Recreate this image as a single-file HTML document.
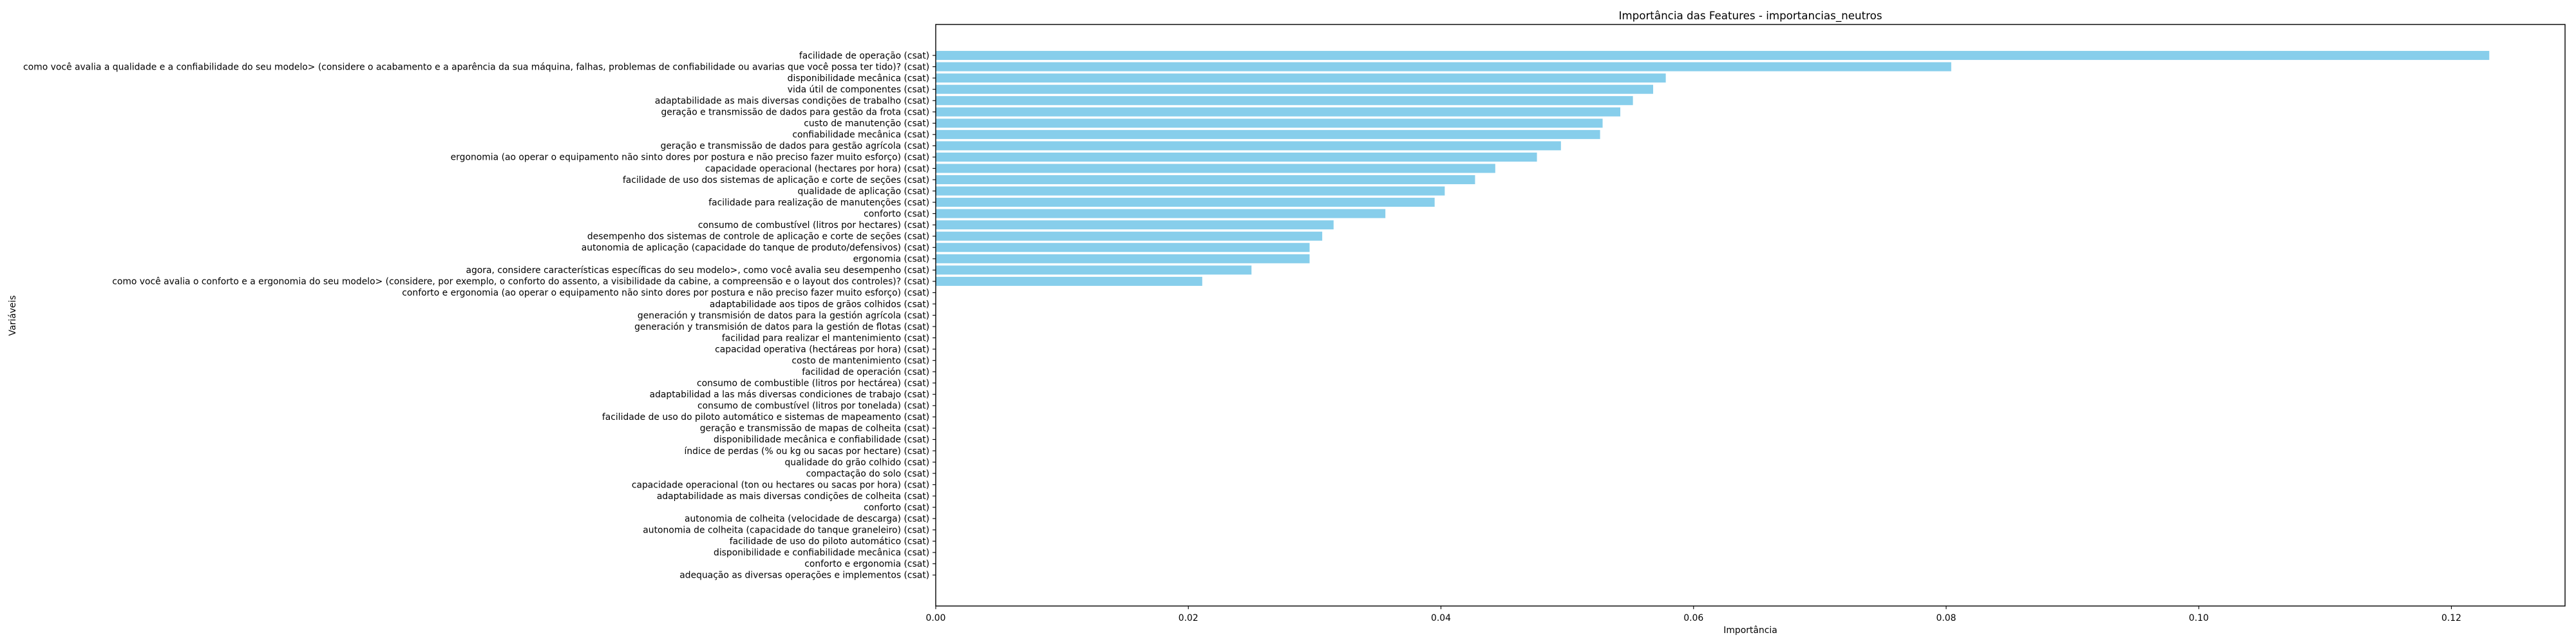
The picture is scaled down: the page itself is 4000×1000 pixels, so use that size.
<!DOCTYPE html>
<html><head><meta charset="utf-8"><style>
html,body{margin:0;padding:0;background:#fff;}
svg{display:block;font-family:"DejaVu Sans","Liberation Sans",sans-serif;}
</style></head><body>
<svg id="chart" width="4000" height="1000" viewBox="0 0 4000 1000" xmlns="http://www.w3.org/2000/svg">
<rect width="4000" height="1000" fill="#fff"/>
<g id="bars"></g>
<g id="yticks"></g>
<g id="xticks"></g>
<rect x="1453" y="38" width="2530" height="903" fill="none" stroke="#000" stroke-width="1.4"/>
<text x="2718" y="30" text-anchor="middle" font-size="16.7">Importância das Features - importancias_neutros</text>
<text x="2718" y="983" text-anchor="middle" font-size="13.9">Importância</text>
<text x="0" y="0" transform="translate(24,490) rotate(-90)" text-anchor="middle" font-size="13.9">Variáveis</text>
</svg>
<script>
const categories = [
"facilidade de operação (csat)",
"como você avalia a qualidade e a confiabilidade do seu modelo> (considere o acabamento e a aparência da sua máquina, falhas, problemas de confiabilidade ou avarias que você possa ter tido)? (csat)",
"disponibilidade mecânica (csat)",
"vida útil de componentes (csat)",
"adaptabilidade as mais diversas condições de trabalho (csat)",
"geração e transmissão de dados para gestão da frota (csat)",
"custo de manutenção (csat)",
"confiabilidade mecânica (csat)",
"geração e transmissão de dados para gestão agrícola (csat)",
"ergonomia (ao operar o equipamento não sinto dores por postura e não preciso fazer muito esforço) (csat)",
"capacidade operacional (hectares por hora) (csat)",
"facilidade de uso dos sistemas de aplicação e corte de seções (csat)",
"qualidade de aplicação (csat)",
"facilidade para realização de manutenções (csat)",
"conforto (csat)",
"consumo de combustível (litros por hectares) (csat)",
"desempenho dos sistemas de controle de aplicação e corte de seções (csat)",
"autonomia de aplicação (capacidade do tanque de produto/defensivos) (csat)",
"ergonomia (csat)",
"agora, considere características específicas do seu modelo>, como você avalia seu desempenho (csat)",
"como você avalia o conforto e a ergonomia do seu modelo>  (considere, por exemplo, o conforto do assento, a visibilidade da cabine, a compreensão e o layout dos controles)? (csat)",
"conforto e ergonomia (ao operar o equipamento não sinto dores por postura e não preciso fazer muito esforço) (csat)",
"adaptabilidade aos tipos de grãos colhidos (csat)",
"generación y transmisión de datos para la gestión agrícola (csat)",
"generación y transmisión de datos para la gestión de flotas (csat)",
"facilidad para realizar el mantenimiento (csat)",
"capacidad operativa (hectáreas por hora) (csat)",
"costo de mantenimiento (csat)",
"facilidad de operación (csat)",
"consumo de combustible (litros por hectárea) (csat)",
"adaptabilidad a las más diversas condiciones de trabajo (csat)",
"consumo de combustível (litros por tonelada) (csat)",
"facilidade de uso do piloto automático e sistemas de mapeamento (csat)",
"geração e transmissão de mapas de colheita (csat)",
"disponibilidade mecânica e confiabilidade (csat)",
"índice de perdas (% ou kg ou sacas por hectare) (csat)",
"qualidade do grão colhido (csat)",
"compactação do solo (csat)",
"capacidade operacional (ton ou hectares ou sacas por hora) (csat)",
"adaptabilidade as mais diversas condições de colheita (csat)",
"conforto  (csat)",
"autonomia de colheita (velocidade de descarga) (csat)",
"autonomia de colheita (capacidade do tanque graneleiro) (csat)",
"facilidade de uso do piloto automático (csat)",
"disponibilidade e confiabilidade mecânica  (csat)",
"conforto e ergonomia (csat)",
"adequação as diversas operações e implementos (csat)"
];
const importances = [0.1230,0.0804,0.0578,0.0568,0.0552,0.0542,0.0528,0.0526,0.0495,0.0476,0.0443,0.0427,0.0403,0.0395,0.0356,0.0315,0.0306,0.0296,0.0296,0.0250,0.0211,
0,0,0,0,0,0,0,0,0,0,0,0,0,0,0,0,0,0,0,0,0,0,0,0,0,0];
const xTickValues = [0,0.02,0.04,0.06,0.08,0.10,0.12];
const xTickLabels = ["0.00","0.02","0.04","0.06","0.08","0.10","0.12"];

const NS = "http://www.w3.org/2000/svg";
const L = 1453, R = 3983, T = 38, B = 941;
const xMax = 0.129;
function xScale(v){ return L + v / xMax * (R - L); }
const n = categories.length;
const span = (n - 1 + 0.8) * 1.1;
const yMin = -0.4 - (n - 1 + 0.8) * 0.05;
function yScale(i){ return T + (i - yMin) / span * (B - T); }
const unit = (B - T) / span;

const barsG = document.getElementById('bars');
const ytG = document.getElementById('yticks');
const xtG = document.getElementById('xticks');

categories.forEach((c, i) => {
  const yc = yScale(i);
  const r = document.createElementNS(NS, 'rect');
  r.setAttribute('x', xScale(0));
  r.setAttribute('y', yc - 0.4 * unit);
  r.setAttribute('width', Math.max(0, xScale(importances[i]) - xScale(0)));
  r.setAttribute('height', 0.8 * unit);
  r.setAttribute('fill', '#87ceeb');
  
  
  barsG.appendChild(r);
  const tk = document.createElementNS(NS, 'line');
  tk.setAttribute('x1', L - 4.9); tk.setAttribute('x2', L);
  tk.setAttribute('y1', yc); tk.setAttribute('y2', yc);
  tk.setAttribute('stroke', '#000'); tk.setAttribute('stroke-width', '1.1');
  
  
  ytG.appendChild(tk);
  const t = document.createElementNS(NS, 'text');
  t.setAttribute('x', L - 9.8);
  t.setAttribute('y', yc + 4.8);
  t.setAttribute('text-anchor', 'end');
  t.setAttribute('font-size', '13.9');
  t.setAttribute('xml:space', 'preserve');
  t.textContent = c;
  
  
  ytG.appendChild(t);
});

xTickValues.forEach((v, i) => {
  const x = xScale(v);
  const tk = document.createElementNS(NS, 'line');
  tk.setAttribute('x1', x); tk.setAttribute('x2', x);
  tk.setAttribute('y1', B); tk.setAttribute('y2', B + 4.9);
  tk.setAttribute('stroke', '#000'); tk.setAttribute('stroke-width', '1.1');
  
  
  xtG.appendChild(tk);
  const t = document.createElementNS(NS, 'text');
  t.setAttribute('x', x);
  t.setAttribute('y', B + 23);
  t.setAttribute('text-anchor', 'middle');
  t.setAttribute('font-size', '13.9');
  t.textContent = xTickLabels[i];
  
  
  xtG.appendChild(t);
});
</script>
</body></html>
